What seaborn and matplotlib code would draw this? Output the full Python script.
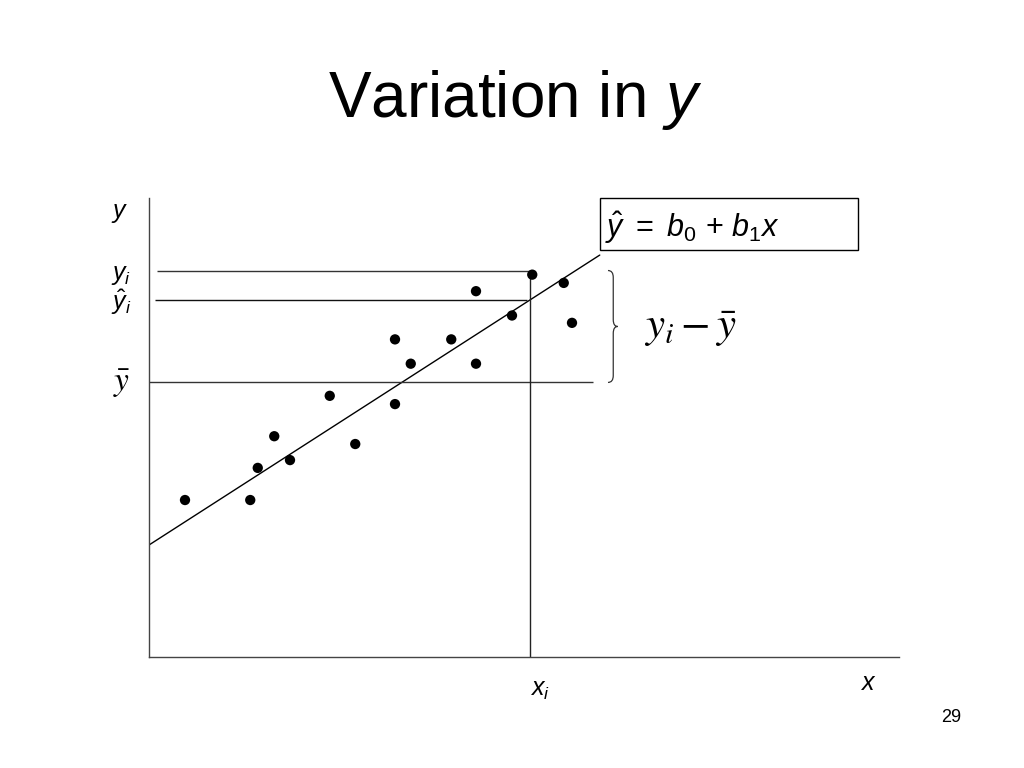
import numpy as np
import pandas as pd
import seaborn as sns
import matplotlib.pyplot as plt
from matplotlib.patches import Rectangle, PathPatch
from matplotlib.path import Path

# scatter points (arbitrary units, axes run 0..10)
x_vals = [0.48, 1.35, 1.45, 1.67, 1.88, 2.41, 2.75, 3.28, 3.28, 3.49, 4.03, 4.36, 4.36, 4.84, 5.11, 5.53, 5.64]
y_vals = [3.42, 3.42, 4.12, 4.81, 4.29, 5.69, 4.64, 6.92, 5.51, 6.39, 6.92, 7.97, 6.39, 7.44, 8.33, 8.15, 7.28]

# fitted line  y_hat = b0 + b1 x
b0 = 2.44
b1 = 1.051
line_x = [0.0, 6.01]

# highlighted observation
x_i = 5.08
y_i = 8.42
y_bar = np.mean(y_vals)
y_hat_i = b0 + b1 * x_i

sns.set_style("white")
plt.rcParams['font.family'] = ['Liberation Sans', 'DejaVu Sans']
plt.rcParams['text.color'] = 'black'
plt.rcParams['mathtext.fontset'] = 'custom'
plt.rcParams['mathtext.rm'] = 'Liberation Sans'
plt.rcParams['mathtext.it'] = 'Liberation Sans:italic'

fig = plt.figure(figsize=(10.24, 7.68), dpi=100)
ax = fig.add_axes([149 / 1024, 1 - 657 / 768, 750 / 1024, 459 / 768])

df = pd.DataFrame({'x': x_vals, 'y': y_vals})
sns.scatterplot(data=df, x='x', y='y', ax=ax, color='black', s=55, edgecolor='none', zorder=3)

line_df = pd.DataFrame({'x': line_x, 'y': [b0 + b1 * v for v in line_x]})
sns.lineplot(data=line_df, x='x', y='y', ax=ax, color='black', lw=1.0)

ax.hlines(y_i, 0.11, x_i, color='#333333', lw=1.0)
ax.hlines(y_hat_i, 0.08, x_i - 0.04, color='#111111', lw=1.0)
ax.hlines(y_bar, 0.0, 5.92, color='#333333', lw=1.0)
ax.vlines(x_i, 0, y_i, color='#222222', lw=1.0)

# brace next to the y_i - y_bar gap
xa, xs, xt = 6.12, 6.19, 6.25
ym = (y_i + y_bar) / 2
verts = [(xa, y_i), (xs, y_i), (xs, y_i - 0.15), (xs, ym + 0.15), (xs, ym), (xt, ym),
         (xs, ym), (xs, ym - 0.15), (xs, y_bar + 0.15), (xs, y_bar), (xa, y_bar)]
codes = [Path.MOVETO, Path.CURVE3, Path.CURVE3, Path.LINETO, Path.CURVE3, Path.CURVE3,
         Path.CURVE3, Path.CURVE3, Path.LINETO, Path.CURVE3, Path.CURVE3]
ax.add_patch(PathPatch(Path(verts, codes), fill=False, lw=0.9, color='#333333', clip_on=False))

ax.set_xlim(0, 10)
ax.set_ylim(0, 10)
ax.set_xticks([])
ax.set_yticks([])
ax.set_xlabel('')
ax.set_ylabel('')
sns.despine(ax=ax)
for s in ['left', 'bottom']:
    ax.spines[s].set_color('#444444')
    ax.spines[s].set_linewidth(1.0)

# axis annotations
ax.text(-0.39, 9.67, '$y$', fontsize=18, ha='center', va='center', clip_on=False)
ax.text(-0.37, 8.33, r'$y_i$', fontsize=18, ha='center', va='center', clip_on=False)
ax.text(-0.37, 7.72, r'$\hat{y}_i$', fontsize=18, ha='center', va='center', clip_on=False)
ax.text(-0.37, 5.95, r'$\bar{y}$', fontsize=24, ha='center', va='center', clip_on=False,
        math_fontfamily='stix')
ax.text(5.21, -0.72, r'$x_i$', fontsize=18, ha='center', va='center', clip_on=False)
ax.text(9.59, -0.57, '$x$', fontsize=18, ha='center', va='center', clip_on=False)
ax.text(6.60, 7.15, r'$y_i - \bar{y}$', fontsize=31, ha='left', va='center',
        math_fontfamily='stix')

# equation box
fig.patches.append(Rectangle((600 / 1024, 1 - 250 / 768), 258 / 1024, 52 / 768,
                             transform=fig.transFigure, fill=False, lw=1.0, ec='black'))
fig.text(605 / 1024, 1 - 228 / 768, r'$\hat{y}\ \mathrm{=}\ b_0\ \mathrm{+}\ b_1x$', fontsize=22,
         ha='left', va='center')

fig.text(0.503, 1 - 100 / 768, 'Variation in $y$', fontsize=46, ha='center', va='center')
fig.text(951 / 1024, 1 - 717 / 768, '29', fontsize=13, ha='center', va='center')

plt.savefig('out.png', dpi=100)
